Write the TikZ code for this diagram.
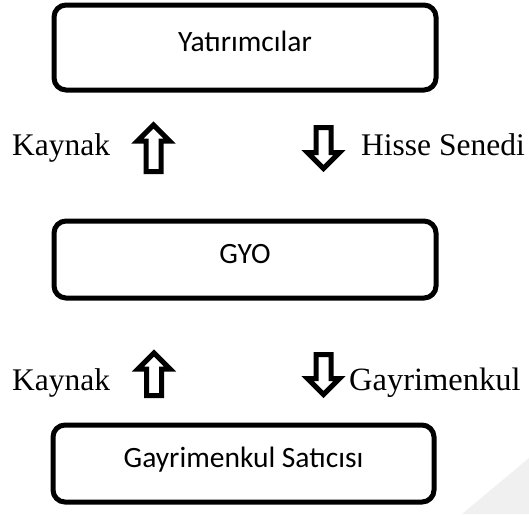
\documentclass[tikz,border=0pt]{standalone}
\usepackage{fontspec}
\setmainfont{Liberation Serif}
\newfontfamily\boxfont{Carlito}
\begin{document}
\begin{tikzpicture}[x=1pt,y=-1pt,
  actor/.style={draw=black,line width=5pt,rounded corners=12pt,fill=white,
    minimum width=382pt,inner sep=0pt,font=\boxfont\fontsize{29.5}{34}\selectfont,
    text height=20pt,text depth=13pt},
  flowlabel/.style={inner sep=0pt,anchor=base west,font=\fontsize{31.5}{36}\selectfont},
  blockarrow/.style={draw=black,line width=5pt,fill=white,line join=miter}]
  \useasboundingbox (0,0) rectangle (529,514);
  % faint corner mark
  \fill[black!6] (462,514) -- (529,458) -- (529,514) -- cycle;

  % participants
  \node[actor,minimum height=85pt] (inv) at (245,47.5) {Yatırımcılar};
  \node[actor,minimum height=77pt] (gyo) at (245,259.5) {GYO};
  \node[actor,minimum width=381pt,minimum height=77pt] (sel) at (243.5,463.5) {Gayrimenkul Satıcısı};

  % block arrow: #1 = centre x, #2 = tip y, #3 = shoulder y, #4 = tail y
  \newcommand\blockarrowshape[4]{%
    \draw[blockarrow] (#1-7.5,#4) -- (#1-7.5,#3) -- (#1-16,#3) -- (#1,#2)
      -- (#1+16,#3) -- (#1+7.5,#3) -- (#1+7.5,#4) -- cycle;}

  % between investors and GYO
  \blockarrowshape{153.5}{125}{141}{171.5}
  \blockarrowshape{323.5}{168.5}{152.5}{127.5}
  \node[flowlabel] (src1) at (12,155) {Kaynak};
  \node[flowlabel] (share) at (361,155) {Hisse Senedi};

  % between GYO and the seller
  \blockarrowshape{154}{353}{369}{395.5}
  \blockarrowshape{323.5}{394.5}{378.5}{354.5}
  \node[flowlabel] (src2) at (12,390) {Kaynak};
  \node[flowlabel,font=\fontsize{32.5}{37}\selectfont] (estate) at (349,390) {Gayrimenkul};
\end{tikzpicture}
\end{document}
